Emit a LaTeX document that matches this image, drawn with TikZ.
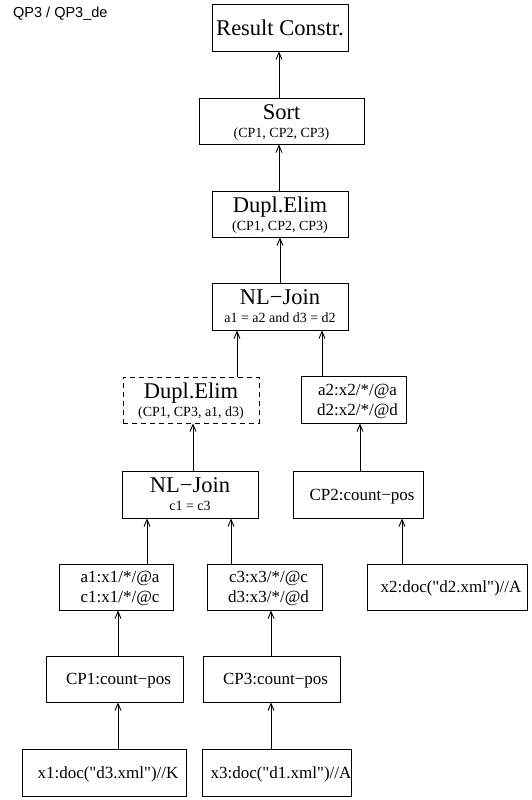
\documentclass[tikz,border=0pt]{standalone}
\usepackage{fontspec}
\setmainfont{Liberation Serif}[Ligatures=TeXOff]
\newfontfamily\labelsans{Liberation Sans}
\usetikzlibrary{arrows.meta}

% type sizes used in the plan
\newcommand\opbig{\fontsize{22.5}{18}\selectfont}
\newcommand\opmed{\fontsize{17}{20}\selectfont}
\newcommand\opsmall{\fontsize{14}{18}\selectfont}
\newcommand\nudge{\hspace*{8pt}}

\begin{document}
\begin{tikzpicture}[x=1pt,y=-1pt,
  opbox/.style={draw, line width=0.9pt, inner sep=0pt, text depth=0pt, align=center},
  titled/.style={opbox, font=\opsmall},
  plain/.style={opbox, font=\opmed},
  virtual/.style={titled, dash pattern=on 5pt off 4pt},
  arr/.style={-{Straight Barb[length=7pt,width=6pt]}, line width=0.9pt}
]
\useasboundingbox (0,0) rectangle (531,800);

\node[font=\labelsans\fontsize{14.5}{17}\selectfont, anchor=base west, inner sep=0pt]
  (plan) at (13,18) {QP3 / QP3\_de};

% operators of the plan
\node[opbox, font=\opbig, minimum width=136pt, minimum height=47pt]
  (res) at (280,27.5) {Result Constr.};
\node[titled, minimum width=165pt, minimum height=46pt]
  (sort) at (281.5,121) {{\opbig Sort}\\(CP1, CP2, CP3)};
\node[titled, minimum width=136pt, minimum height=46pt]
  (dup1) at (280,214) {{\opbig Dupl.Elim}\\(CP1, CP2, CP3)};
\node[titled, minimum width=136pt, minimum height=47pt]
  (nl1) at (280,306.5) {{\opbig NL−Join}\\a1 = a2 and d3 = d2};
\node[virtual, minimum width=136pt, minimum height=46pt]
  (dup2) at (191,400) {{\opbig Dupl.Elim}\\(CP1, CP3, a1, d3)};
\node[plain, minimum width=105pt, minimum height=47pt]
  (a2) at (353.5,399.5) {\nudge a2:x2/*/@a\\\nudge d2:x2/*/@d};
\node[titled, minimum width=136pt, minimum height=47pt]
  (nl2) at (190,494.5) {{\opbig NL−Join}\\c1 = c3};
\node[plain, minimum width=130pt, minimum height=47pt]
  (cp2) at (358,494.5) {\nudge CP2:count−pos};
\node[plain, minimum width=114pt, minimum height=46pt]
  (a1) at (116,587) {\nudge a1:x1/*/@a\\\nudge c1:x1/*/@c};
\node[plain, minimum width=115pt, minimum height=46pt]
  (c3) at (264.5,587) {\nudge c3:x3/*/@c\\\nudge d3:x3/*/@d};
\node[plain, minimum width=160pt, minimum height=46pt]
  (x2) at (447,587) {\nudge x2:doc("d2.xml")//A};
\node[plain, minimum width=137pt, minimum height=46pt]
  (cp1) at (114.5,679) {\nudge CP1:count−pos};
\node[plain, minimum width=137pt, minimum height=46pt]
  (cp3) at (271.5,679) {\nudge CP3:count−pos};
\node[plain, minimum width=164pt, minimum height=47pt]
  (x1) at (104,772.5) {\nudge x1:doc("d3.xml")//K};
\node[plain, minimum width=148pt, minimum height=47pt]
  (x3) at (277,772.5) {\nudge x3:doc("d1.xml")//A};

% data flow, bottom to top
\draw[arr] (sort.north -| 279,0) -- (res.south -| 279,0);
\draw[arr] (dup1.north -| 279,0) -- (sort.south -| 279,0);
\draw[arr] (nl1.north -| 280,0) -- (dup1.south -| 280,0);
\draw[arr] (dup2.north -| 237,0) -- (nl1.south -| 237,0);
\draw[arr] (a2.north -| 322,0) -- (nl1.south -| 322,0);
\draw[arr] (nl2.north -| 193,0) -- (dup2.south -| 193,0);
\draw[arr] (cp2.north -| 360,0) -- (a2.south -| 360,0);
\draw[arr] (a1.north -| 147,0) -- (nl2.south -| 147,0);
\draw[arr] (c3.north -| 231,0) -- (nl2.south -| 231,0);
\draw[arr] (x2.north -| 402,0) -- (cp2.south -| 402,0);
\draw[arr] (cp1.north -| 118,0) -- (a1.south -| 118,0);
\draw[arr] (x1.north -| 118,0) -- (cp1.south -| 118,0);
\draw[arr] (cp3.north -| 271,0) -- (c3.south -| 271,0);
\draw[arr] (x3.north -| 271,0) -- (cp3.south -| 271,0);
\end{tikzpicture}
\end{document}
